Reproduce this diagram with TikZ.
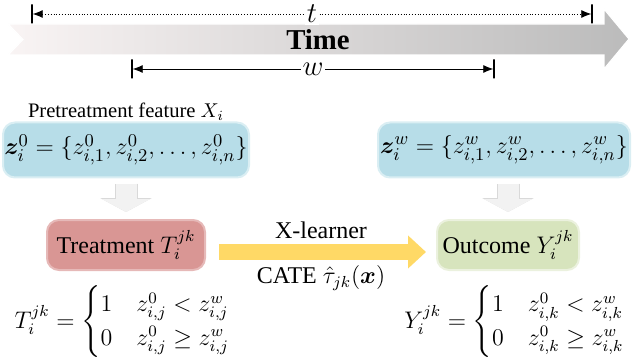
\documentclass[tikz,border=0pt]{standalone}
\usepackage{amsmath,amssymb,bm}
\usepackage[no-math]{fontspec}
\setmainfont{Liberation Serif}
\usetikzlibrary{arrows.meta,positioning}
\definecolor{featBlue}{HTML}{B7DDE8}
\definecolor{featBlueEdge}{HTML}{DAEEF3}
\definecolor{treatRed}{HTML}{D99694}
\definecolor{treatRedEdge}{HTML}{E6B9B8}
\definecolor{outGreen}{HTML}{D7E4BD}
\definecolor{outGreenEdge}{HTML}{EBF1DE}
\definecolor{learnYellow}{HTML}{FFD966}
\definecolor{stepGray}{HTML}{F2F2F2}
\definecolor{stepGrayEdge}{HTML}{D9D9D9}
\definecolor{timeLight}{HTML}{F9F4F4}
\definecolor{timeDark}{HTML}{BBBBBB}

\begin{document}
\begin{tikzpicture}[x=0.5pt,y=-0.5pt,
  feat/.style={draw=featBlueEdge,line width=1pt,fill=featBlue,rounded corners=6pt,minimum height=27.5pt,inner sep=0pt,font=\fontsize{12.4}{15}\selectfont},
  state/.style={line width=1pt,rounded corners=6pt,minimum height=25pt,inner sep=0pt,font=\large},
  stepdown/.style={draw=stepGray,line width=10.5pt,-{Triangle[length=6.5pt,width=24pt]},
    preaction={draw=stepGrayEdge,line width=11.5pt,-{Triangle[length=7pt,width=25.5pt]}}},
  learn/.style={draw=learnYellow,line width=8pt,-{Triangle[length=9pt,width=16pt]}},
  tick/.style={draw,line width=0.7pt,minimum width=0pt,minimum height=9.5pt,inner sep=0pt},
  dim/.style={{Latex[length=5pt,width=4pt]}-{Latex[length=5pt,width=4pt]},line width=0.4pt}
]
\useasboundingbox (0,0) rectangle (632,358);
\path[left color=timeLight,right color=timeDark,draw=white,line width=0.6pt]
  (8,24) -- (604,24) -- (604,9) -- (629,39) -- (604,69) -- (604,55) -- (8,55) -- (23,39.5) -- cycle;
\node[font=\Large\bfseries] (time) at (318,40) {Time};

\node[tick] (tL) at (32,14) {};
\node[tick] (tR) at (592,14) {};
\draw[dim,dash pattern=on 0.4pt off 1pt] (tL) -- node[fill=white,inner sep=1pt,font=\Large] (tlab) {$t$} (tR);
\node[tick] (wL) at (132,69) {};
\node[tick] (wR) at (494,69) {};
\draw[dim] (wL) -- node[fill=white,inner sep=1pt,font=\Large] (wlab) {$w$} (wR);

\node[feat,minimum width=123pt] (featL) at (126,150) {$\bm{z}_i^0=\{z_{i,1}^0,z_{i,2}^0,\ldots,z_{i,n}^0\}$};
\node[feat,minimum width=126pt] (featR) at (504,150) {$\bm{z}_i^w=\{z_{i,1}^w,z_{i,2}^w,\ldots,z_{i,n}^w\}$};
\node[above=-3pt of featL,font=\fontsize{10.3}{12}\selectfont] (pre) {Pretreatment feature $X_i$};

\node[state,draw=treatRedEdge,fill=treatRed,minimum width=79pt] (treat) at (126,245) {Treatment $T_i^{jk}$};
\node[state,draw=outGreenEdge,fill=outGreen,minimum width=71pt] (outc) at (508,245) {Outcome $Y_i^{jk}$};

\draw[stepdown,shorten <=2.5pt,shorten >=3.5pt] (featL) -- (treat);
\draw[stepdown,shorten <=2.5pt,shorten >=3.5pt] (featR.south -| outc) -- (outc);
\draw[learn,shorten <=6.5pt,shorten >=5pt] ([yshift=-3.5pt]treat.east) -- ([yshift=-3.5pt]outc.west)
  node[midway,yshift=11pt,font=\large] (xlearn) {X-learner}
  node[midway,yshift=-13pt,font=\large] (cate) {CATE $\hat{\tau}_{jk}(\bm{x})$};

\node[font=\large] (tdef) at (123,322) {$T_i^{jk}=\begin{cases}1 & z_{i,j}^0<z_{i,j}^w\\ 0 & z_{i,j}^0\geq z_{i,j}^w\end{cases}$};
\node[font=\large] (ydef) at (515,322) {$Y_i^{jk}=\begin{cases}1 & z_{i,k}^0<z_{i,k}^w\\ 0 & z_{i,k}^0\geq z_{i,k}^w\end{cases}$};
\end{tikzpicture}
\end{document}
